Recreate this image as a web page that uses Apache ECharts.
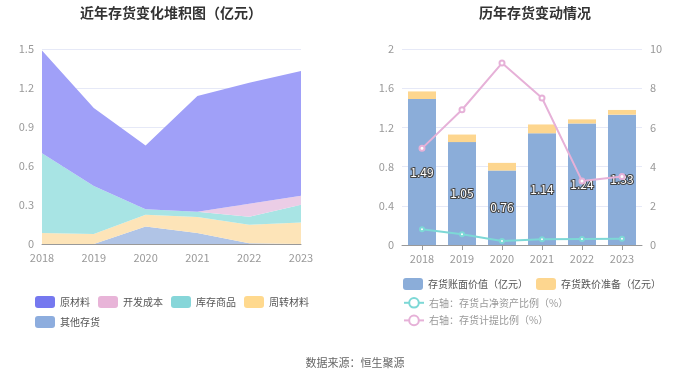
<!DOCTYPE html>
<html><head><meta charset="utf-8">
<script src="https://cdn.jsdelivr.net/npm/echarts@6/dist/echarts.min.js"></script>
<style>html,body{margin:0;padding:0;background:#fff}#c{width:700px;height:378px}</style>
</head><body><div id="c"></div>
<script>
const years = ['2018','2019','2020','2021','2022','2023'];
// left stacked area (亿元)
const otherInv = [0, 0, 0.135, 0.084, 0.005, 0];
const turnover = [0.084, 0.077, 0.09, 0.123, 0.143, 0.166];
const goods = [0.614, 0.37, 0.043, 0.041, 0.062, 0.135];
const devCost = [0, 0, 0, 0, 0.10, 0.07];
const rawMat = [0.79, 0.60, 0.49, 0.89, 0.93, 0.96];
// right chart
const bookValue = [1.49, 1.05, 0.76, 1.14, 1.24, 1.33];
const impairment = [0.077, 0.077, 0.078, 0.09, 0.042, 0.048];
const ratioNetAsset = [0.80, 0.545, 0.2, 0.29, 0.31, 0.32];
const ratioProvision = [4.93, 6.9, 9.28, 7.5, 3.27, 3.5];
const leftTicks = [0, 0.3, 0.6, 0.9, 1.2, 1.5];

const font = '"Noto Sans CJK SC", "Noto Sans", sans-serif';
const chart = echarts.init(document.getElementById('c'));
function area(name, data, color, fill){
  return {name, type:'line', stack:'inv', data, xAxisIndex:0, yAxisIndex:0,
    showSymbol:false, symbol:'none', smooth:false,
    itemStyle:{color}, lineStyle:{width:0, color},
    areaStyle:{color:fill, opacity:1}};
}
chart.setOption({
  animation:false,
  textStyle:{fontFamily:font},
  title:[
    {text:'近年存货变化堆积图（亿元）', left:166, top:1, textAlign:'center',
     textStyle:{fontSize:14, fontWeight:'bold', color:'#333', fontFamily:font}},
    {text:'历年存货变动情况', left:530, top:1, textAlign:'center',
     textStyle:{fontSize:14, fontWeight:'bold', color:'#333', fontFamily:font}},
    {text:'数据来源：恒生聚源', left:350, top:352, textAlign:'center',
     textStyle:{fontSize:11, fontWeight:'normal', color:'#666', fontFamily:font}}
  ],
  legend:[
    {data:['原材料','开发成本','库存商品','周转材料','其他存货'], left:30, top:291, width:290,
     icon:'roundRect', itemWidth:20, itemHeight:12, itemGap:8,
     textStyle:{fontSize:10, color:'#555', fontFamily:font}},
    {data:['存货账面价值（亿元）','存货跌价准备（亿元）'], left:398, top:273,
     icon:'roundRect', itemWidth:20, itemHeight:12, itemGap:8,
     textStyle:{fontSize:10, color:'#555', fontFamily:font}},
    {data:['右轴：存货占净资产比例（%）','右轴：存货计提比例（%）'], left:398, top:292, orient:'vertical',
     itemWidth:20, itemHeight:12, itemGap:6,
     textStyle:{fontSize:10, color:'#999', fontFamily:font}}
  ],
  grid:[
    {left:42, right:399, top:49, bottom:134},
    {left:402, right:58, top:49, bottom:133}
  ],
  xAxis:[
    {type:'category', gridIndex:0, data:years, boundaryGap:false,
     axisLine:{lineStyle:{color:'#999'}}, axisTick:{show:false},
     axisLabel:{color:'#999', fontSize:11, margin:8}},
    {type:'category', gridIndex:1, data:years,
     axisLine:{lineStyle:{color:'#999'}}, axisTick:{show:true, alignWithLabel:true, lineStyle:{color:'#999'}},
     axisLabel:{color:'#999', fontSize:11, margin:8}}
  ],
  yAxis:[
    {type:'value', gridIndex:0, min:0, max:1.5, interval:0.3,
     axisLine:{show:false}, axisTick:{show:false},
     splitLine:{lineStyle:{color:'#e6e9f7'}},
     axisLabel:{color:'#999', fontSize:11}},
    {type:'value', gridIndex:1, min:0, max:2, interval:0.4,
     axisLine:{show:false}, axisTick:{show:false},
     splitLine:{lineStyle:{color:'#e6e9f7'}},
     axisLabel:{color:'#999', fontSize:11}},
    {type:'value', gridIndex:1, min:0, max:10, interval:2, position:'right',
     axisLine:{show:false}, axisTick:{show:false}, splitLine:{show:false},
     axisLabel:{color:'#999', fontSize:11}}
  ],
  series:[
    area('其他存货', otherInv, '#8dadde', '#b0c4e6'),
    area('周转材料', turnover, '#ffd98e', '#fde4b8'),
    area('库存商品', goods, '#86d6d9', '#a8e4e4'),
    area('开发成本', devCost, '#e8b4d8', '#ebcde6'),
    area('原材料', rawMat, '#7578ef', '#a0a0f8'),
    {name:'存货账面价值（亿元）', type:'bar', stack:'bar', xAxisIndex:1, yAxisIndex:1, data:bookValue,
     barWidth:28, itemStyle:{color:'#8badd9'},
     label:{show:true, position:'inside', color:'#fff', fontSize:12, textBorderColor:'#444', textBorderWidth:2,
            fontFamily:font}},
    {name:'存货跌价准备（亿元）', type:'bar', stack:'bar', xAxisIndex:1, yAxisIndex:1, data:impairment,
     barWidth:28, itemStyle:{color:'#fdd68f'}},
    {name:'右轴：存货占净资产比例（%）', type:'line', xAxisIndex:1, yAxisIndex:2, data:ratioNetAsset,
     symbol:'emptyCircle', symbolSize:4, itemStyle:{color:'#7dd8d6'}, lineStyle:{color:'#7dd8d6', width:2}},
    {name:'右轴：存货计提比例（%）', type:'line', xAxisIndex:1, yAxisIndex:2, data:ratioProvision,
     symbol:'emptyCircle', symbolSize:5, itemStyle:{color:'#e6b1d8'}, lineStyle:{color:'#e6b1d8', width:2}}
  ]
});
</script></body></html>
